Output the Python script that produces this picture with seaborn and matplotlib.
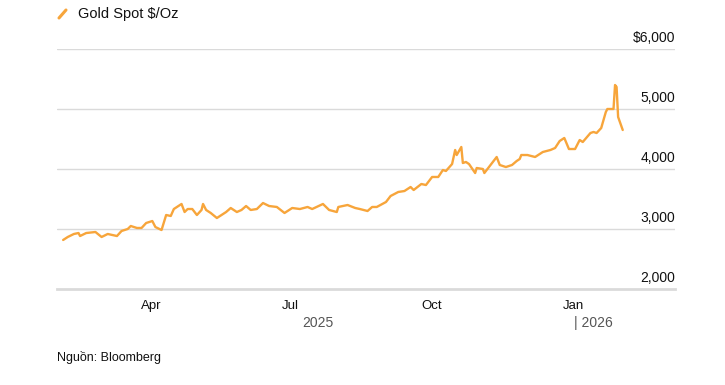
import pandas as pd
import matplotlib.pyplot as plt
import matplotlib.dates as mdates
from matplotlib.lines import Line2D
import seaborn as sns

# Gold spot price, USD per ounce
dates = [
    "2025-02-03", "2025-02-06", "2025-02-10", "2025-02-13", "2025-02-14", "2025-02-18",
    "2025-02-24", "2025-02-28", "2025-03-04", "2025-03-10", "2025-03-13", "2025-03-17",
    "2025-03-19", "2025-03-23", "2025-03-26", "2025-03-29", "2025-04-02", "2025-04-04",
    "2025-04-08", "2025-04-11", "2025-04-14", "2025-04-16", "2025-04-21", "2025-04-23",
    "2025-04-25", "2025-04-28", "2025-05-01", "2025-05-04", "2025-05-05", "2025-05-07",
    "2025-05-10", "2025-05-14", "2025-05-17", "2025-05-20", "2025-05-23", "2025-05-27",
    "2025-05-30", "2025-06-02", "2025-06-05", "2025-06-09", "2025-06-13", "2025-06-17",
    "2025-06-22", "2025-06-27", "2025-07-02", "2025-07-07", "2025-07-12", "2025-07-15",
    "2025-07-22", "2025-07-26", "2025-07-31", "2025-08-01", "2025-08-07", "2025-08-12",
    "2025-08-15", "2025-08-20", "2025-08-23", "2025-08-26", "2025-09-01", "2025-09-04",
    "2025-09-09", "2025-09-13", "2025-09-17", "2025-09-19", "2025-09-24", "2025-09-27",
    "2025-10-01", "2025-10-05", "2025-10-08", "2025-10-10", "2025-10-14", "2025-10-16",
    "2025-10-17", "2025-10-20", "2025-10-21", "2025-10-23", "2025-10-25", "2025-10-29",
    "2025-10-30", "2025-11-03", "2025-11-04", "2025-11-06", "2025-11-09", "2025-11-12",
    "2025-11-14", "2025-11-18", "2025-11-22", "2025-11-25", "2025-11-27", "2025-11-28",
    "2025-12-02", "2025-12-07", "2025-12-12", "2025-12-17", "2025-12-20", "2025-12-23",
    "2025-12-26", "2025-12-29", "2026-01-02", "2026-01-05", "2026-01-07", "2026-01-12",
    "2026-01-14", "2026-01-16", "2026-01-19", "2026-01-22", "2026-01-23", "2026-01-27",
    "2026-01-28", "2026-01-29", "2026-01-30", "2026-02-02",
]
prices = [
    2817, 2867, 2917, 2933, 2883, 2933,
    2950, 2867, 2917, 2883, 2967, 3000,
    3050, 3017, 3017, 3100, 3133, 3033,
    2983, 3233, 3217, 3333, 3417, 3283,
    3333, 3333, 3233, 3317, 3417, 3317,
    3267, 3183, 3233, 3283, 3350, 3283,
    3317, 3383, 3317, 3333, 3433, 3383,
    3367, 3267, 3350, 3333, 3367, 3333,
    3417, 3317, 3283, 3367, 3400, 3350,
    3333, 3300, 3367, 3367, 3450, 3550,
    3617, 3633, 3700, 3650, 3750, 3733,
    3867, 3867, 3983, 3967, 4083, 4317,
    4233, 4367, 4100, 4117, 4083, 3933,
    4017, 4000, 3933, 4000, 4100, 4200,
    4067, 4033, 4067, 4133, 4167, 4233,
    4233, 4200, 4283, 4317, 4350, 4467,
    4517, 4333, 4333, 4483, 4450, 4600,
    4617, 4600, 4683, 4950, 5000, 5000,
    5400, 5367, 4867, 4650,
]

y_ticks = [2000, 3000, 4000, 5000, 6000]
y_labels = ["2,000", "3,000", "4,000", "5,000", "$6,000"]
major_months = ["2025-04-01", "2025-07-01", "2025-10-01", "2026-01-01"]
major_labels = ["Apr", "Jul", "Oct", "Jan"]

df = pd.DataFrame({"Date": pd.to_datetime(dates), "Price": prices})

sns.set_style("white")
plt.rcParams["font.family"] = ["Liberation Sans", "DejaVu Sans"]

LINE = "#F7A53B"
GRID = "#DADADA"

fig = plt.figure(figsize=(7.25, 3.85), dpi=100)
ax = fig.add_axes([57 / 725, 1 - 289 / 385, 618 / 725, 240 / 385])

sns.lineplot(data=df, x="Date", y="Price", ax=ax, color=LINE, linewidth=1.7)

ax.set_xlim(pd.Timestamp("2025-01-30"), pd.Timestamp("2026-03-08"))
ax.set_ylim(2000, 6000)

# horizontal gridlines and right-side labels sitting above them
for v, lab in zip(y_ticks, y_labels):
    if v > 2000:
        ax.axhline(v, color=GRID, lw=1, zorder=0)
    ax.annotate(lab, xy=(1.0, v), xycoords=ax.get_yaxis_transform(),
                xytext=(0, 3), textcoords="offset points",
                ha="right", va="bottom", fontsize=10, color="#111111")
ax.set_yticks([])

for s in ["top", "right", "left"]:
    ax.spines[s].set_visible(False)
ax.spines["bottom"].set_color(GRID)
ax.spines["bottom"].set_linewidth(2)

ax.set_xticks(pd.to_datetime(major_months))
ax.set_xticklabels(major_labels)
minor = pd.date_range("2025-03-01", "2026-02-01", freq="MS")
ax.set_xticks(minor, minor=True)
ax.tick_params(axis="x", which="major", length=6, width=1, color="#333333",
               labelsize=9.5, pad=2, labelcolor="#111111")
ax.tick_params(axis="x", which="minor", length=4, width=1, color="#CCCCCC")
ax.set_xlabel("")
ax.set_ylabel("")

# year labels
yr_tf = ax.get_xaxis_transform()
ax.text(pd.Timestamp("2025-07-19"), -0.14, "2025", transform=yr_tf,
        ha="center", va="center", fontsize=10, color="#555555")
ax.text(pd.Timestamp("2026-01-01"), -0.14, "| 2026", transform=yr_tf,
        ha="left", va="center", fontsize=10, color="#555555")

# legend
fig.add_artist(Line2D([59 / 725, 66 / 725], [1 - 18 / 385, 1 - 10 / 385],
                      color=LINE, lw=2.2, transform=fig.transFigure))
fig.text(78 / 725, 1 - 14 / 385, "Gold Spot $/Oz", ha="left", va="center",
         fontsize=10.5, color="#111111")

fig.text(57 / 725, 1 - 357 / 385, "Nguồn: Bloomberg", ha="left", va="center",
         fontsize=9, color="#111111")

plt.savefig("out.png", dpi=100)
